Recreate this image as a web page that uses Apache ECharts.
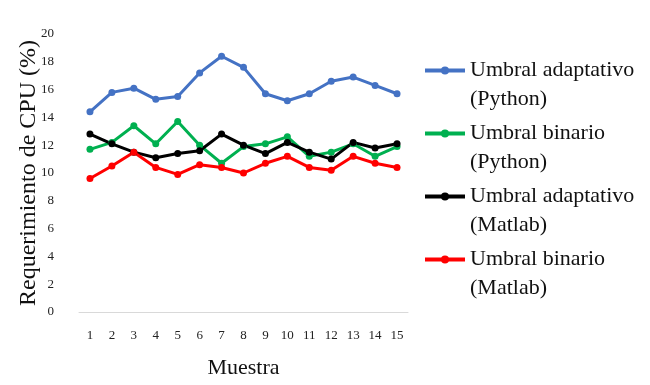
<!DOCTYPE html>
<html>
<head>
<meta charset="utf-8">
<script src="https://cdn.jsdelivr.net/npm/echarts@6/dist/echarts.min.js"></script>
<style>
  html, body { margin: 0; padding: 0; background: #fff; }
  #chart { width: 650px; height: 385px; }
</style>
</head>
<body>
<div id="chart"></div>
<script>
// muestras 1..15
var muestras = ['1', '2', '3', '4', '5', '6', '7', '8', '9', '10', '11', '12', '13', '14', '15']
var adaptPython = [14.4, 15.8, 16.1, 15.3, 15.5, 17.2, 18.4, 17.6, 15.7, 15.2, 15.7, 16.6, 16.9, 16.3, 15.7]
var binPython = [11.7, 12.2, 13.4, 12.1, 13.7, 12.0, 10.7, 11.9, 12.1, 12.6, 11.2, 11.5, 12.1, 11.2, 11.9]
var adaptMatlab = [12.8, 12.1, 11.5, 11.1, 11.4, 11.6, 12.8, 12.0, 11.4, 12.2, 11.5, 11.0, 12.2, 11.8, 12.1]
var binMatlab = [9.6, 10.5, 11.5, 10.4, 9.9, 10.6, 10.4, 10.0, 10.7, 11.2, 10.4, 10.2, 11.2, 10.7, 10.4]

var serif = '"Liberation Serif", "Times New Roman", serif'

function serie(name, color, data) {
  return {
    name: name,
    type: 'line',
    data: data,
    symbol: 'circle',
    symbolSize: 7,
    lineStyle: { width: 3, color: color },
    itemStyle: { color: color },
    emphasis: { disabled: true }
  }
}

var chart = echarts.init(document.getElementById('chart'))
chart.setOption({
  animation: false,
  grid: {
    left: 79,
    right: 242,
    top: 34,
    bottom: 73,
    outerBoundsMode: 'none'
  },
  legend: {
    orient: 'vertical',
    left: 423,
    top: 27,
    padding: 0,
    itemWidth: 40,
    itemHeight: 10,
    itemGap: -24,
    lineStyle: { width: 4 },
    textStyle: {
      fontFamily: serif,
      fontSize: 22,
      color: '#111',
      lineHeight: 29
    },
    // blank first line so the icon sits beside the first text line
    formatter: function (name) {
      var i = name.lastIndexOf(' (')
      return '\n' + name.slice(0, i) + '\n' + name.slice(i + 1)
    }
  },
  xAxis: {
    type: 'category',
    data: muestras,
    name: 'Muestra',
    nameLocation: 'middle',
    nameGap: 45,
    nameTextStyle: { fontFamily: serif, fontSize: 22, color: '#111' },
    axisLine: { lineStyle: { color: '#d9d9d9', width: 1 } },
    axisTick: { show: false },
    axisLabel: { fontFamily: serif, fontSize: 13, color: '#222', margin: 17, interval: 0 }
  },
  yAxis: {
    type: 'value',
    min: 0,
    max: 20,
    interval: 2,
    name: 'Requerimiento de CPU (%)',
    nameLocation: 'middle',
    nameGap: 38,
    nameMoveOverlap: false,
    nameTextStyle: { fontFamily: serif, fontSize: 24, color: '#111' },
    axisLine: { show: false },
    axisTick: { show: false },
    splitLine: { show: false },
    axisLabel: { fontFamily: serif, fontSize: 13, color: '#222', margin: 25 }
  },
  series: [
    serie('Umbral adaptativo (Python)', '#4472C4', adaptPython),
    serie('Umbral binario (Python)', '#00B050', binPython),
    serie('Umbral adaptativo (Matlab)', '#000000', adaptMatlab),
    serie('Umbral binario (Matlab)', '#FF0000', binMatlab)
  ]
})
</script>
</body>
</html>
